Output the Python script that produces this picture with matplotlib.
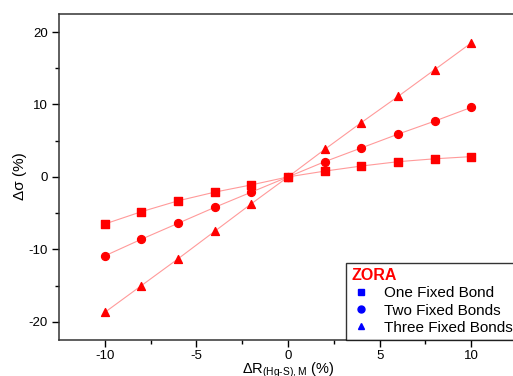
import matplotlib
matplotlib.use("Agg")
import matplotlib.pyplot as plt

plt.rcParams['font.family'] = ['Liberation Sans', 'DejaVu Sans']
plt.rcParams['axes.unicode_minus'] = False
plt.rcParams['mathtext.fontset'] = 'custom'
plt.rcParams['mathtext.rm'] = 'Liberation Sans'
plt.rcParams['mathtext.it'] = 'Liberation Sans:italic'

# strain in the Hg-S bond (%)
dR = [-10, -8, -6, -4, -2, 0, 2, 4, 6, 8, 10]
# shielding change (%) for each case
one_fixed = [-6.5, -4.8, -3.3, -2.1, -1.1, 0, 0.8, 1.5, 2.1, 2.5, 2.8]
two_fixed = [-10.9, -8.6, -6.4, -4.2, -2.1, 0, 2.1, 4.0, 5.9, 7.7, 9.6]
three_fixed = [-18.7, -15.0, -11.3, -7.5, -3.7, 0, 3.8, 7.5, 11.1, 14.8, 18.5]

labels = ["One Fixed Bond", "Two Fixed Bonds", "Three Fixed Bonds"]
markers = ["s", "o", "^"]

fig = plt.figure(figsize=(5.13, 3.76), dpi=100)
ax = fig.add_axes([0.115, 0.096, 0.893, 0.867])

for ys, m, lab in zip([one_fixed, two_fixed, three_fixed], markers, labels):
    ax.plot(dR, ys, color="#ff9a9a", lw=0.8, zorder=1)
    ax.scatter(dR, ys, marker=m, color="red", s=32, zorder=2)
    # legend handle in blue
    ax.plot([], [], ls="none", marker=m, color="blue", ms=5, label=lab)

ax.set_xlim(-12.5, 12.5)
ax.set_ylim(-22.5, 22.5)
ax.set_xticks([-10, -5, 0, 5, 10])
ax.set_xticks([-7.5, -2.5, 2.5, 7.5], minor=True)
ax.set_yticks([-20, -10, 0, 10, 20])
ax.set_yticks([-15, -5, 5, 15], minor=True)
ax.tick_params(direction="out", labelsize=9.5, length=5, width=1, pad=3)
ax.tick_params(axis="x", pad=2.5)
ax.tick_params(which="minor", length=3, width=1)
for s in ax.spines.values():
    s.set_linewidth(1.1)
    s.set_color("#333333")

ax.set_xlabel("ΔR$_{\\mathregular{(Hg\\text{-}S),M}}$ (%)", fontsize=10.5)
ax.set_ylabel("Δσ (%)", fontsize=11)
ax.xaxis.set_label_coords(0.5, -0.064)
ax.yaxis.set_label_coords(-0.07, 0.503)

leg = ax.legend(loc="lower left", bbox_to_anchor=(0.627, 0.0), borderaxespad=0,
                fontsize=11, title="ZORA", frameon=True, fancybox=False,
                handletextpad=0.9, handlelength=1.2, labelspacing=0.2,
                alignment="left", borderpad=0.35)
leg.get_frame().set_edgecolor("black")
leg.get_frame().set_linewidth(1.0)
leg.get_title().set_color("red")
leg.get_title().set_fontweight("bold")
leg.get_title().set_fontsize(11.5)

fig.savefig("out.png", dpi=100)
